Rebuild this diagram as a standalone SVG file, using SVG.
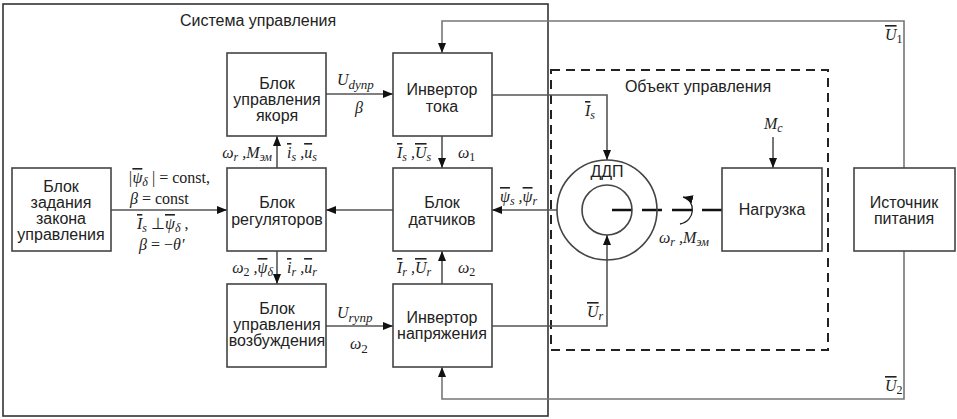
<svg xmlns="http://www.w3.org/2000/svg" width="957" height="419" viewBox="0 0 957 419">
<style>
.t{font-family:"Liberation Sans",Arial,sans-serif;font-size:16px;fill:#222;text-anchor:middle}
.m{font-family:"Liberation Serif","Times New Roman",serif;font-style:italic;font-size:16px;fill:#222}
.r{font-style:normal}
.v{text-decoration:overline}
.box{fill:#fff;stroke:#444;stroke-width:1.6}
.ln{fill:none;stroke:#555;stroke-width:1.6}
.fb{fill:none;stroke:#777;stroke-width:1.6}
</style>
<defs>
<marker id="ah" viewBox="0 0 10 8" refX="10" refY="4" markerWidth="10" markerHeight="8" markerUnits="userSpaceOnUse" orient="auto"><path d="M0,0 L10,4 L0,8 z" fill="#111"/></marker>
</defs>
<rect width="957" height="419" fill="#fff"/>

<g id="system">
<rect x="3" y="4" width="545" height="412" fill="none" stroke="#333" stroke-width="1.6"/>
<text class="t" x="258" y="26">Система управления</text>
</g>
<g id="object">
<rect x="551" y="70" width="277" height="280" fill="none" stroke="#222" stroke-width="2" stroke-dasharray="9 6"/>
<text class="t" x="698" y="92">Объект управления</text>
</g>

<g id="connectors">
<path class="fb" d="M904 168 V21 H442 V53" marker-end="url(#ah)"/>
<path class="fb" d="M904 251 V399 H442 V367" marker-end="url(#ah)"/>
<path class="ln" d="M326 94 H393" marker-end="url(#ah)"/>
<path class="ln" d="M326 326 H393" marker-end="url(#ah)"/>
<path class="ln" d="M111 210 H227" marker-end="url(#ah)"/>
<path class="ln" d="M393 210 H326" marker-end="url(#ah)"/>
<path class="ln" d="M277 168 V136" marker-end="url(#ah)"/>
<path class="ln" d="M277 251 V284" marker-end="url(#ah)"/>
<path class="ln" d="M442 136 V168" marker-end="url(#ah)"/>
<path class="ln" d="M442 284 V251" marker-end="url(#ah)"/>
<path class="ln" d="M492 95 H607 V160" marker-end="url(#ah)"/>
<path class="ln" d="M492 326 H607 V235" marker-end="url(#ah)"/>
<path class="ln" d="M557 210 H492" marker-end="url(#ah)"/>
<path class="ln" d="M773 137 V168" marker-end="url(#ah)"/>
<path d="M612 210 H722" fill="none" stroke="#111" stroke-width="2.6" stroke-dasharray="20 10"/>
<path d="M680 224 C696 221 696 200 683 197" fill="none" stroke="#222" stroke-width="1.3" marker-end="url(#ah)"/>
</g>

<g id="n-yakor">
<rect class="box" x="227" y="53" width="99" height="83"/>
<text class="t" x="277" y="89">Блок</text>
<text class="t" x="277" y="105">управления</text>
<text class="t" x="277" y="121">якоря</text>
</g>
<g id="n-inv-tok">
<rect class="box" x="393" y="53" width="99" height="83"/>
<text class="t" x="442" y="95">Инвертор</text>
<text class="t" x="442" y="112">тока</text>
</g>
<g id="n-zadanie">
<rect class="box" x="12" y="168" width="99" height="83"/>
<text class="t" x="61" y="192">Блок</text>
<text class="t" x="61" y="208">задания</text>
<text class="t" x="61" y="224">закона</text>
<text class="t" x="61" y="240">управления</text>
</g>
<g id="n-reg">
<rect class="box" x="227" y="168" width="99" height="83"/>
<text class="t" x="277" y="208">Блок</text>
<text class="t" x="277" y="225">регуляторов</text>
</g>
<g id="n-dat">
<rect class="box" x="393" y="168" width="99" height="83"/>
<text class="t" x="442" y="208">Блок</text>
<text class="t" x="442" y="225">датчиков</text>
</g>
<g id="n-vozb">
<rect class="box" x="227" y="284" width="99" height="83"/>
<text class="t" x="277" y="314">Блок</text>
<text class="t" x="277" y="330">управления</text>
<text class="t" x="277" y="346">возбуждения</text>
</g>
<g id="n-inv-nap">
<rect class="box" x="393" y="284" width="99" height="83"/>
<text class="t" x="442" y="323">Инвертор</text>
<text class="t" x="442" y="339">напряжения</text>
</g>
<g id="n-ddp">
<circle cx="607" cy="210" r="50" fill="none" stroke="#444" stroke-width="1.6"/>
<circle cx="607" cy="210" r="25" fill="none" stroke="#444" stroke-width="1.6"/>
<text class="t" x="607" y="177">ДДП</text>
</g>
<g id="n-load">
<rect class="box" x="722" y="168" width="100" height="83"/>
<text class="t" x="772" y="215">Нагрузка</text>
</g>
<g id="n-source">
<rect class="box" x="854" y="168" width="101" height="83"/>
<text class="t" x="904" y="208">Источник</text>
<text class="t" x="904" y="224">питания</text>
</g>

<g id="labels">
<text class="m" x="337" y="85">U<tspan dy="4" font-size="13">dупр</tspan></text>
<text class="m" x="355" y="113">β</text>
<text class="m" x="337" y="318">U<tspan dy="4" font-size="13">rупр</tspan></text>
<text class="m" x="350" y="349">ω<tspan dy="4" font-size="13" class="r">2</tspan></text>
<text class="m" x="272" y="158" text-anchor="end">ω<tspan dy="3" font-size="12">r</tspan><tspan dy="-3"> ,M</tspan><tspan dy="3" font-size="12">эм</tspan></text>
<text class="m" x="287" y="158"><tspan class="v">i</tspan><tspan dy="3" font-size="12">s</tspan><tspan dy="-3"> ,</tspan><tspan class="v">u</tspan><tspan dy="3" font-size="12">s</tspan></text>
<text class="m" x="397" y="158"><tspan class="v">I</tspan><tspan dy="3" font-size="12">s</tspan><tspan dy="-3"> ,</tspan><tspan class="v">U</tspan><tspan dy="3" font-size="12">s</tspan></text>
<text class="m" x="458" y="158">ω<tspan dy="3" font-size="12" class="r">1</tspan></text>
<text class="m" x="273" y="273" text-anchor="end">ω<tspan dy="3" font-size="12" class="r">2</tspan><tspan dy="-3"> ,</tspan><tspan class="v">ψ</tspan><tspan dy="3" font-size="12">δ</tspan></text>
<text class="m" x="287" y="273"><tspan class="v">i</tspan><tspan dy="3" font-size="12">r</tspan><tspan dy="-3"> ,</tspan><tspan class="v">u</tspan><tspan dy="3" font-size="12">r</tspan></text>
<text class="m" x="397" y="273"><tspan class="v">I</tspan><tspan dy="3" font-size="12">r</tspan><tspan dy="-3"> ,</tspan><tspan class="v">U</tspan><tspan dy="3" font-size="12">r</tspan></text>
<text class="m" x="458" y="273">ω<tspan dy="3" font-size="12" class="r">2</tspan></text>
<text class="m" x="128" y="183">|<tspan class="v">ψ</tspan><tspan dy="3" font-size="12">δ</tspan><tspan dy="-3" class="r"> | = const,</tspan></text>
<text class="m" x="130" y="204">β<tspan class="r"> = const</tspan></text>
<text class="m" x="137" y="229"><tspan class="v">I</tspan><tspan dy="3" font-size="12">s</tspan><tspan dy="-3" class="r"> ⊥</tspan><tspan class="v">ψ</tspan><tspan dy="3" font-size="12">δ</tspan><tspan dy="-3" class="r"> ,</tspan></text>
<text class="m" x="139" y="250">β<tspan class="r"> = −</tspan>θ′</text>
<text class="m" x="500" y="202"><tspan class="v">ψ</tspan><tspan dy="3" font-size="12">s</tspan><tspan dy="-3"> ,</tspan><tspan class="v">ψ</tspan><tspan dy="3" font-size="12">r</tspan></text>
<text class="m" x="585" y="116"><tspan class="v">I</tspan><tspan dy="3" font-size="12">s</tspan></text>
<text class="m" x="587" y="317"><tspan class="v">U</tspan><tspan dy="3" font-size="12">r</tspan></text>
<text class="m" x="764" y="129">M<tspan dy="3" font-size="12">c</tspan></text>
<text class="m" x="659" y="243">ω<tspan dy="3" font-size="12">r</tspan><tspan dy="-3"> ,M</tspan><tspan dy="3" font-size="12">эм</tspan></text>
<text class="m" x="885" y="40"><tspan class="v">U</tspan><tspan dy="3" font-size="12" class="r">1</tspan></text>
<text class="m" x="885" y="391"><tspan class="v">U</tspan><tspan dy="3" font-size="12" class="r">2</tspan></text>
</g>
</svg>
